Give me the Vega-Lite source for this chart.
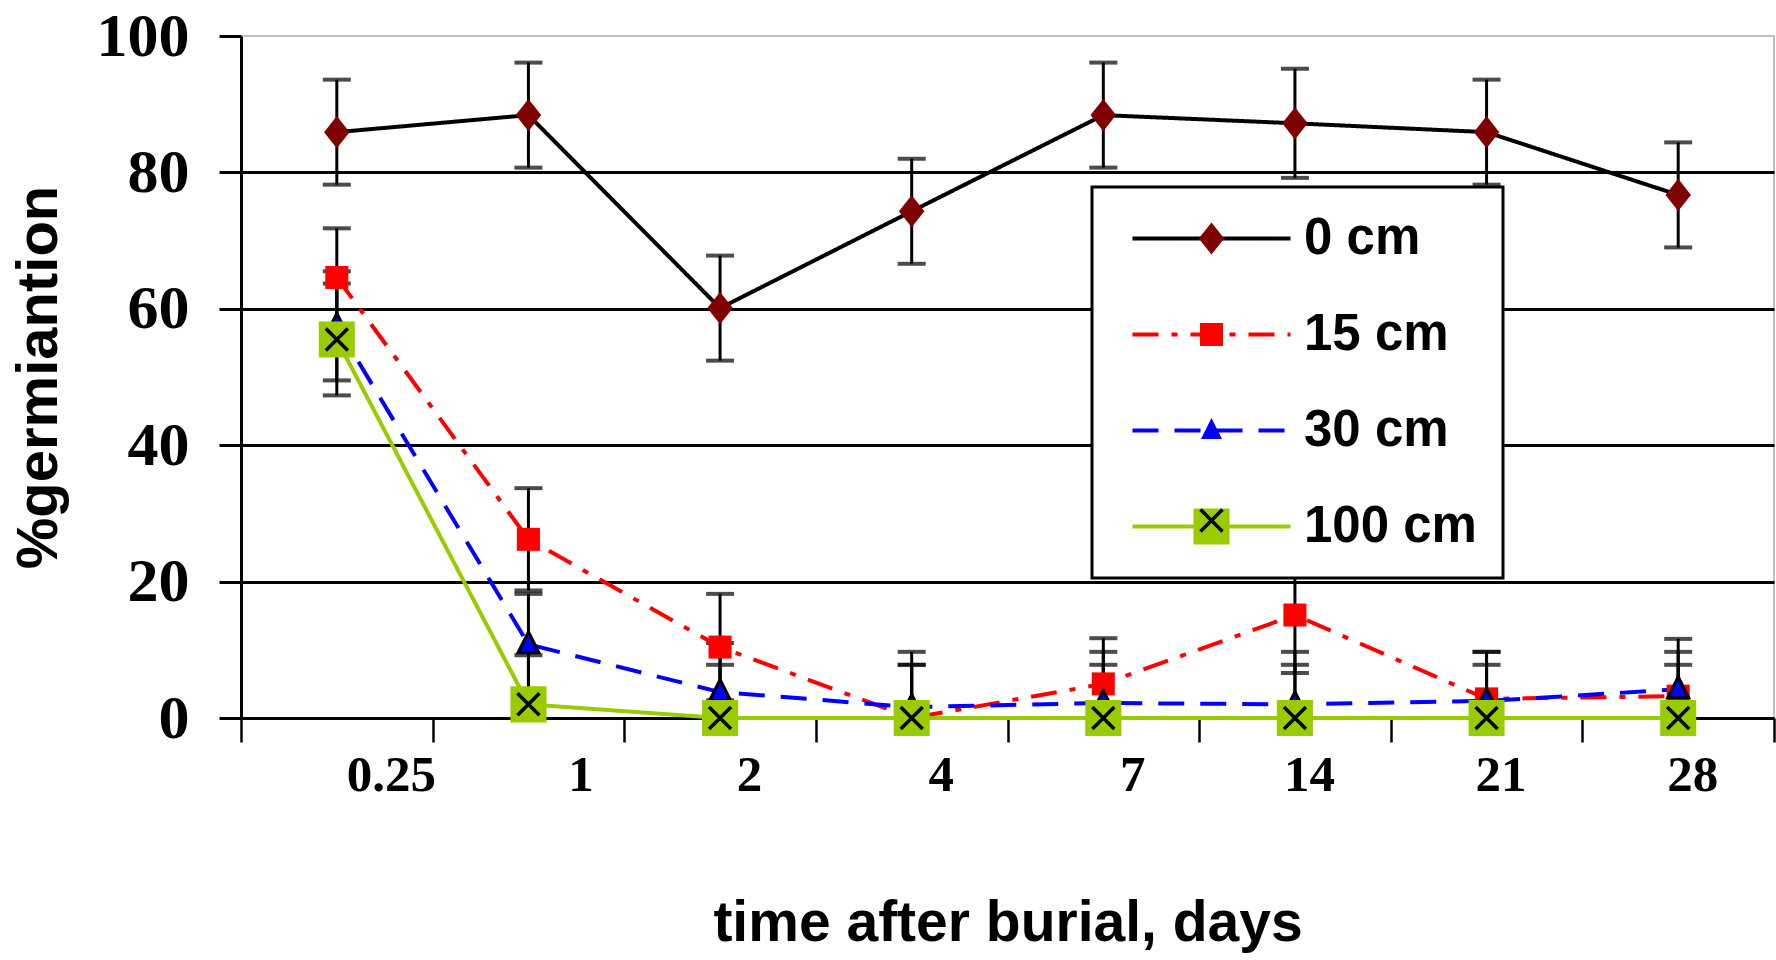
{
  "$schema": "https://vega.github.io/schema/vega-lite/v6.json",
  "width": 1533,
  "height": 682,
  "autosize": {"type": "none"},
  "padding": {"left": 241, "top": 36, "right": 2, "bottom": 242},
  "background": "white",
  "config": {"view": {"stroke": "#c0c0c0", "strokeWidth": 2}},
  "data": {"values": [
    {"t": "0.25", "depth": "0 cm", "depth_m": "0 cm", "depth_x": "0 cm", "g": 85.9, "e": 7.7},
    {"t": "1", "depth": "0 cm", "depth_m": "0 cm", "depth_x": "0 cm", "g": 88.4, "e": 7.7},
    {"t": "2", "depth": "0 cm", "depth_m": "0 cm", "depth_x": "0 cm", "g": 60.1, "e": 7.7},
    {"t": "4", "depth": "0 cm", "depth_m": "0 cm", "depth_x": "0 cm", "g": 74.3, "e": 7.7},
    {"t": "7", "depth": "0 cm", "depth_m": "0 cm", "depth_x": "0 cm", "g": 88.4, "e": 7.7},
    {"t": "14", "depth": "0 cm", "depth_m": "0 cm", "depth_x": "0 cm", "g": 87.2, "e": 8.0},
    {"t": "21", "depth": "0 cm", "depth_m": "0 cm", "depth_x": "0 cm", "g": 85.9, "e": 7.7},
    {"t": "28", "depth": "0 cm", "depth_m": "0 cm", "depth_x": "0 cm", "g": 76.7, "e": 7.7},
    {"t": "0.25", "depth": "15 cm", "depth_m": "15 cm", "depth_x": "15 cm", "g": 64.6, "e": 7.2},
    {"t": "1", "depth": "15 cm", "depth_m": "15 cm", "depth_x": "15 cm", "g": 26.2, "e": 7.5},
    {"t": "2", "depth": "15 cm", "depth_m": "15 cm", "depth_x": "15 cm", "g": 10.4, "e": 7.8},
    {"t": "4", "depth": "15 cm", "depth_m": "15 cm", "depth_x": "15 cm", "g": 0, "e": 7.8},
    {"t": "7", "depth": "15 cm", "depth_m": "15 cm", "depth_x": "15 cm", "g": 5.0, "e": 6.7},
    {"t": "14", "depth": "15 cm", "depth_m": "15 cm", "depth_x": "15 cm", "g": 15.1, "e": 8.5},
    {"t": "21", "depth": "15 cm", "depth_m": "15 cm", "depth_x": "15 cm", "g": 2.8, "e": 6.9},
    {"t": "28", "depth": "15 cm", "depth_m": "15 cm", "depth_x": "15 cm", "g": 3.2, "e": 6.5},
    {"t": "0.25", "depth": "30 cm", "depth_m": "30 cm", "depth_x": "30 cm", "g": 57.5, "e": 8.0},
    {"t": "1", "depth": "30 cm", "depth_m": "30 cm", "depth_x": "30 cm", "g": 10.8, "e": 7.4},
    {"t": "2", "depth": "30 cm", "depth_m": "30 cm", "depth_x": "30 cm", "g": 3.8, "e": 7.2},
    {"t": "4", "depth": "30 cm", "depth_m": "30 cm", "depth_x": "30 cm", "g": 1.6, "e": 8.1},
    {"t": "7", "depth": "30 cm", "depth_m": "30 cm", "depth_x": "30 cm", "g": 2.2, "e": 7.5},
    {"t": "14", "depth": "30 cm", "depth_m": "30 cm", "depth_x": "30 cm", "g": 2.0, "e": 7.7},
    {"t": "21", "depth": "30 cm", "depth_m": "30 cm", "depth_x": "30 cm", "g": 2.5, "e": 7.2},
    {"t": "28", "depth": "30 cm", "depth_m": "30 cm", "depth_x": "30 cm", "g": 4.2, "e": 7.4},
    {"t": "0.25", "depth": "100 cm", "depth_m": "100 cm", "depth_x": "100 cm", "g": 55.5, "e": 8.2},
    {"t": "1", "depth": "100 cm", "depth_m": "100 cm", "depth_x": "100 cm", "g": 2.0, "e": 7.2},
    {"t": "2", "depth": "100 cm", "depth_m": "100 cm", "depth_x": "100 cm", "g": 0, "e": 7.8},
    {"t": "4", "depth": "100 cm", "depth_m": "100 cm", "depth_x": "100 cm", "g": 0, "e": 7.8},
    {"t": "7", "depth": "100 cm", "depth_m": "100 cm", "depth_x": "100 cm", "g": 0, "e": 7.8},
    {"t": "14", "depth": "100 cm", "depth_m": "100 cm", "depth_x": "100 cm", "g": 0, "e": 7.8},
    {"t": "21", "depth": "100 cm", "depth_m": "100 cm", "depth_x": "100 cm", "g": 0, "e": 7.8},
    {"t": "28", "depth": "100 cm", "depth_m": "100 cm", "depth_x": "100 cm", "g": 0, "e": 7.8}
  ]},
  "encoding": {
    "x": {
      "field": "t", "type": "ordinal",
      "sort": ["0.25", "1", "2", "4", "7", "14", "21", "28"],
      "scale": {"paddingInner": 0, "paddingOuter": 0},
      "axis": {
        "title": "time after burial, days",
        "tickBand": "extent",
        "labelAngle": 0,
        "grid": false,
        "domainColor": "black", "domainWidth": 3,
        "tickColor": "black", "tickWidth": 2.5, "tickSize": 24,
        "labelFont": "Liberation Serif", "labelFontWeight": "bold", "labelFontSize": 51, "labelColor": "black",
        "labelPadding": 8,
        "labelOffset": {"expr": "datum.value == '0.25' ? 54 : datum.value == '1' ? 52 : (datum.value == '2' || datum.value == '4' || datum.value == '7') ? 29 : 14"},
        "titleFont": "Liberation Sans", "titleFontWeight": "bold", "titleFontSize": 57, "titleColor": "black",
        "titlePadding": 95
      }
    },
    "y": {
      "field": "g", "type": "quantitative",
      "scale": {"domain": [0, 100], "nice": false},
      "axis": {
        "title": "%germiantion",
        "values": [0, 20, 40, 60, 80, 100],
        "grid": true,
        "gridColor": "black", "gridWidth": 3,
        "gridOpacity": {"condition": {"test": "datum.value === 100", "value": 0}, "value": 1},
        "domainColor": "black", "domainWidth": 3,
        "tickColor": "black", "tickWidth": 3, "tickSize": 22,
        "labelFont": "Liberation Serif", "labelFontWeight": "bold", "labelFontSize": 62, "labelColor": "black",
        "labelPadding": 30,
        "titleFont": "Liberation Sans", "titleFontWeight": "bold", "titleFontSize": 58, "titleColor": "black",
        "titlePadding": 28
      }
    }
  },
  "layer": [
    {
      "mark": {"type": "errorbar", "clip": true, "color": "black",
        "rule": {"strokeWidth": 3, "color": "black"},
        "ticks": {"size": 28, "thickness": 4, "color": "black"}},
      "encoding": {"yError": {"field": "e"}}
    },
    {
      "mark": {"type": "line", "strokeWidth": 4},
      "encoding": {
        "stroke": {"field": "depth", "type": "nominal", "sort": null,
          "scale": {"range": ["black", "#ff0000", "#0000ff", "#99cc00"]},
          "legend": {"orient": "none", "legendX": 851, "legendY": 151, "title": null, "direction": "vertical",
            "padding": 26, "rowPadding": 44, "symbolType": "M-4,0H4", "symbolSize": 1560, "symbolStrokeWidth": 4,
            "symbolOffset": 68, "labelOffset": 67, "labelFont": "Liberation Sans", "labelFontWeight": "bold",
            "labelFontSize": 51, "labelColor": "black", "labelLimit": 400,
            "strokeColor": "black", "fillColor": "white", "zindex": 1,
            "encode": {"legend": {"update": {"strokeWidth": {"value": 3}}}}}},
        "strokeDash": {"field": "depth", "type": "nominal", "sort": null,
          "scale": {"range": [[1, 0], [26, 13, 6, 13], [26, 16], [1, 0]]},
          "legend": {"orient": "none", "legendX": 851, "legendY": 151, "title": null, "direction": "vertical",
            "padding": 26, "rowPadding": 44, "symbolType": "M-4,0H4", "symbolSize": 1560, "symbolStrokeWidth": 4,
            "symbolOffset": 68, "labelOffset": 67, "labelFont": "Liberation Sans", "labelFontWeight": "bold",
            "labelFontSize": 51, "labelColor": "black", "labelLimit": 400,
            "strokeColor": "black", "fillColor": "white", "zindex": 1,
            "encode": {"legend": {"update": {"strokeWidth": {"value": 3}}}}}}
      }
    },
    {
      "mark": {"type": "point", "filled": true, "opacity": 1, "stroke": "black"},
      "encoding": {
        "fill": {"field": "depth_m", "type": "nominal", "sort": null,
          "scale": {"range": ["#800000", "#ff0000", "#0000ff", "#99cc00"]},
          "legend": {"orient": "none", "legendX": 851, "legendY": 151, "title": null, "direction": "vertical",
            "padding": 26, "rowPadding": 44, "symbolOffset": 68, "labelOffset": 67,
            "labelFontSize": 51, "labelExpr": "''", "symbolStrokeColor": "black", "zindex": 2}},
        "shape": {"field": "depth_m", "type": "nominal", "sort": null,
          "scale": {"range": ["M0,-1.2L0.95,0L0,1.2L-0.95,0Z", "square", "M0,-1.2L1,0.8L-1,0.8Z", "square"]},
          "legend": {"orient": "none", "legendX": 851, "legendY": 151, "title": null, "direction": "vertical",
            "padding": 26, "rowPadding": 44, "symbolOffset": 68, "labelOffset": 67,
            "labelFontSize": 51, "labelExpr": "''", "symbolStrokeColor": "black", "zindex": 2}},
        "size": {"field": "depth_m", "type": "nominal", "sort": null,
          "scale": {"type": "ordinal", "range": [720, 530, 441, 1300]},
          "legend": {"orient": "none", "legendX": 851, "legendY": 151, "title": null, "direction": "vertical",
            "padding": 26, "rowPadding": 44, "symbolOffset": 68, "labelOffset": 67,
            "labelFontSize": 51, "labelExpr": "''", "symbolStrokeColor": "black", "zindex": 2}},
        "strokeWidth": {"field": "depth_m", "type": "nominal", "sort": null,
          "scale": {"type": "ordinal", "range": [0, 0, 3, 0]},
          "legend": {"orient": "none", "legendX": 851, "legendY": 151, "title": null, "direction": "vertical",
            "padding": 26, "rowPadding": 44, "symbolOffset": 68, "labelOffset": 67,
            "labelFontSize": 51, "labelExpr": "''", "symbolStrokeColor": "black", "zindex": 2}}
      }
    },
    {
      "transform": [{"filter": "datum.depth_x == '100 cm'"}],
      "mark": {"type": "point", "shape": "M-1,-1L1,1M1,-1L-1,1", "filled": false, "stroke": "black", "strokeWidth": 3.5, "size": 484},
      "encoding": {
        "opacity": {"field": "depth_x", "type": "nominal",
          "scale": {"type": "ordinal", "range": [1]},
          "legend": {"orient": "none", "legendX": 851, "legendY": 433, "title": null, "direction": "vertical",
            "padding": 26, "rowPadding": 44, "symbolOffset": 68, "labelOffset": 67,
            "labelFontSize": 51, "labelExpr": "''",
            "symbolType": "M-1,-1L1,1M1,-1L-1,1", "symbolSize": 484, "symbolStrokeColor": "black",
            "symbolStrokeWidth": 3.5, "symbolFillColor": "transparent", "zindex": 3}}
      }
    }
  ]
}
